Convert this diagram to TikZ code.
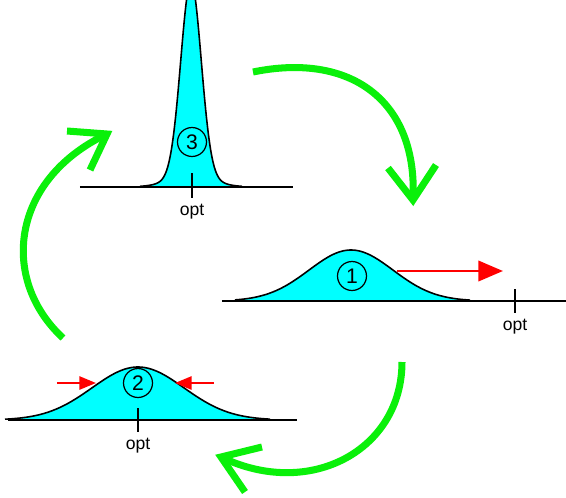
\documentclass[tikz,border=0pt]{standalone}
\usepackage{fontspec}
\setmainfont{Liberation Sans}
\usetikzlibrary{arrows.meta}
\definecolor{loopgreen}{RGB}{10,240,10}
\definecolor{bellcyan}{RGB}{0,255,255}

\begin{document}
\begin{tikzpicture}
[x=0.02cm, y=-0.02cm, font=\fontsize{10}{12}\selectfont]
\tikzstyle{bell}=[draw=black, line width=0.9pt]
\tikzstyle{axisline}=[line width=1.1pt]
\tikzstyle{num}=[circle, draw, line width=0.7pt, inner sep=0mm, minimum size=16.5pt, font=\fontsize{12}{14}\selectfont]
\tikzstyle{push}=[red, line width=1.7pt, -{Triangle[length=14pt, width=11.5pt]}]
\tikzstyle{squeeze}=[red, line width=1.3pt, -{Triangle[length=9.5pt, width=7.5pt]}]
\tikzstyle{greenarc}=[loopgreen, line width=4pt]
\tikzstyle{greenhead}=[loopgreen, line width=4pt, line join=miter]

\clip (0,0) rectangle (566,498);

% step 3: narrow peak on the optimum
\fill[bellcyan] plot[domain=140:242, samples=180] (\x,{187-195*exp(-(((\x-191)/10.2)^2)/2)-10*exp(-(((\x-191)/22)^2)/2)}) -- cycle;
\draw[bell] plot[domain=140:242, samples=180] (\x,{187-195*exp(-(((\x-191)/10.2)^2)/2)-10*exp(-(((\x-191)/22)^2)/2)});
\draw[axisline] (80,187) -- (293,187);
\draw[axisline] (192,173) -- (192,198);
\node[num]	(n3)	at (192,142)	{3};
\node		(opt3)	at (192,212)	{opt};

% step 1: broad bell, pushed towards the optimum
\fill[bellcyan] plot[domain=235:470, samples=120] (\x,{301-51*exp(-(((\x-351)/42)^2)/2)}) -- cycle;
\draw[bell] plot[domain=235:470, samples=120] (\x,{301-51*exp(-(((\x-351)/42)^2)/2)});
\draw[axisline] (222,301) -- (566,301);
\draw[axisline] (515,289) -- (515,313);
\node[num]	(n1)	at (352,276)	{1};
\node		(opt1)	at (515,327)	{opt};
\coordinate	(p1a)	at (397,271);
\coordinate	(p1b)	at (503,271);
\draw[push] (p1a) -- (p1b);

% step 2: bell over the optimum, being narrowed
\fill[bellcyan] plot[domain=5:270, samples=120] (\x,{420-53*exp(-(((\x-138)/46)^2)/2)}) -- cycle;
\draw[bell] plot[domain=5:270, samples=120] (\x,{420-53*exp(-(((\x-138)/46)^2)/2)});
\draw[axisline] (8,420) -- (297,420);
\draw[axisline] (138,408) -- (138,432);
\node[num]	(n2)	at (138,383)	{2};
\node		(opt2)	at (138,446)	{opt};
\coordinate	(s1a)	at (57,383);
\coordinate	(s1b)	at (96,383);
\coordinate	(s2a)	at (214,383);
\coordinate	(s2b)	at (175,383);
\draw[squeeze] (s1a) -- (s1b);
\draw[squeeze] (s2a) -- (s2b);

% green cycle 3 -> 1 -> 2 -> 3
\coordinate	(ga)	at (253,72);
\coordinate	(gatip)	at (413,200);
\coordinate	(gb)	at (402,362);
\coordinate	(gbtip)	at (221,457);
\coordinate	(gc)	at (63,338);
\coordinate	(gctip)	at (107,134);

\draw[greenarc] (ga) .. controls (350,52) and (418,100) .. (gatip);
\draw[greenhead] (388,168) -- (gatip) -- (436,165);
\draw[greenarc] (gb) .. controls (402,450) and (310,500) .. (gbtip);
\draw[greenhead] (262,447) -- (gbtip) -- (245,492);
\draw[greenarc] (gc) .. controls (0,280) and (10,180) .. (gctip);
\draw[greenhead] (67,131) -- (gctip) -- (90,170);
\end{tikzpicture}
\end{document}
